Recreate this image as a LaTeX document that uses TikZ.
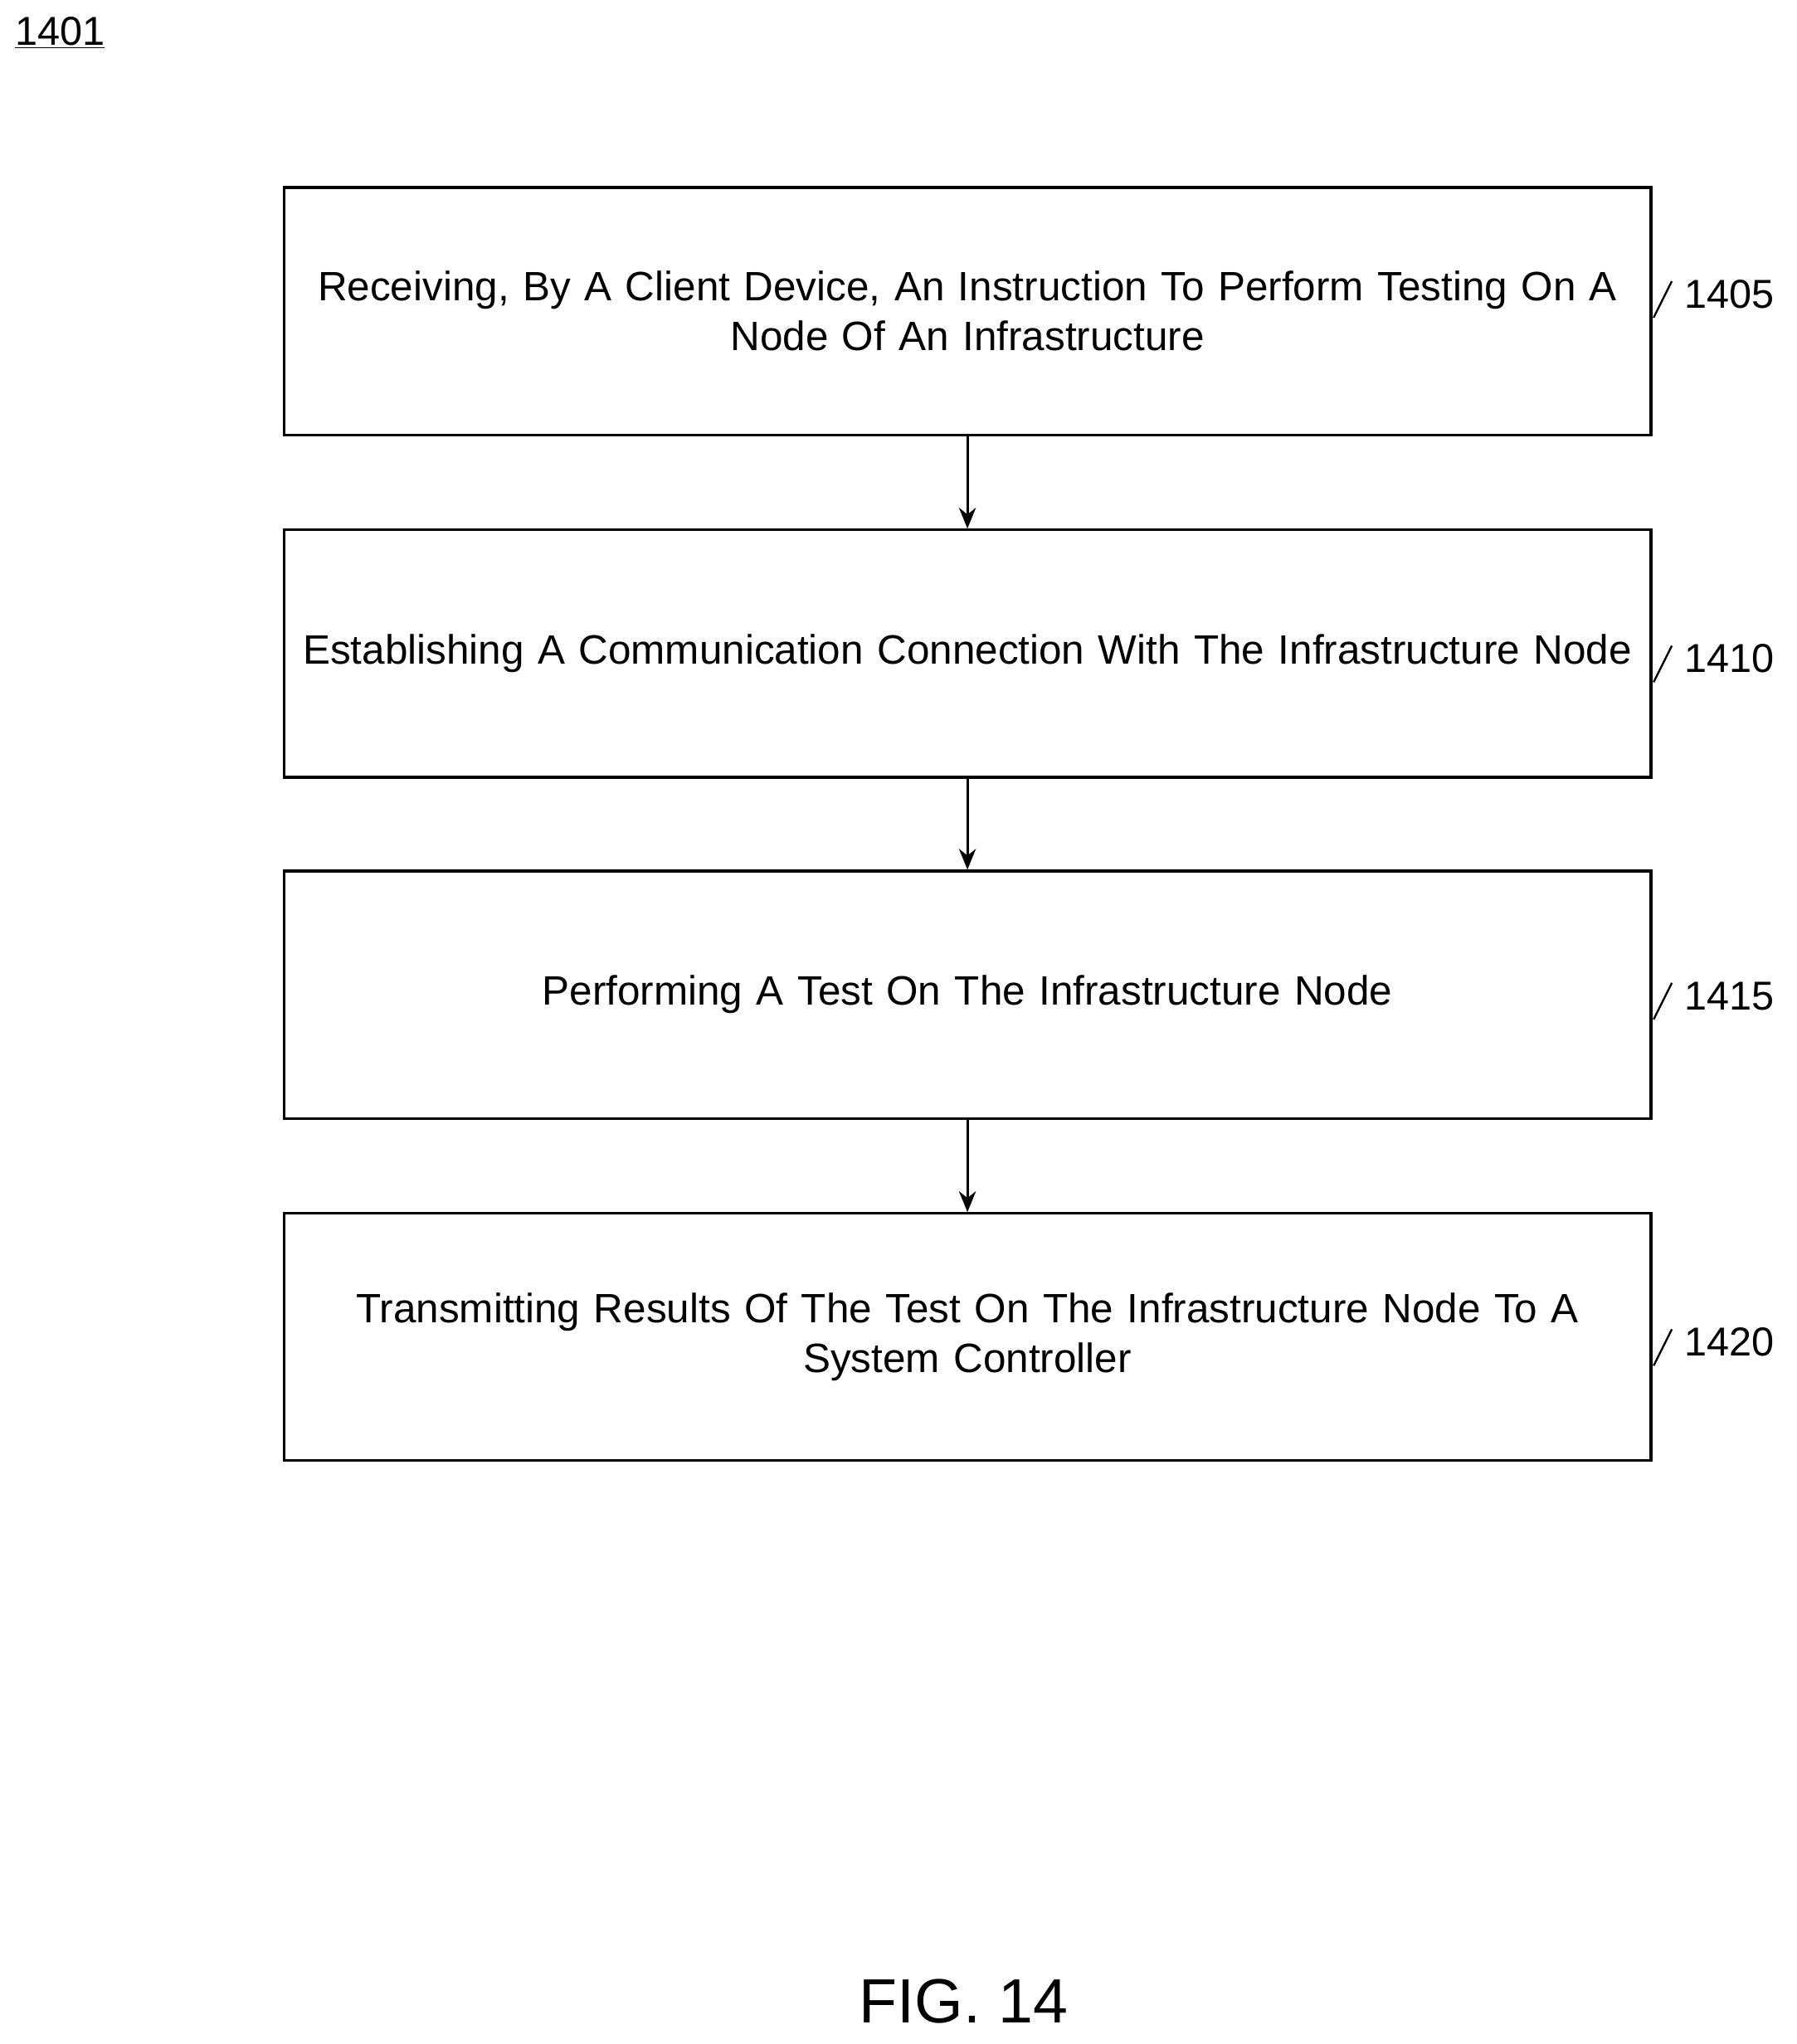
\documentclass[tikz,border=0pt]{standalone}
\usepackage{fontspec}
\setmainfont{Liberation Sans}
\usetikzlibrary{arrows.meta}
\begin{document}
\begin{tikzpicture}[x=1pt,y=-1pt,
  box/.style={draw,line width=2pt,minimum width=1050pt,minimum height=190pt,align=center,font=\fontsize{31.5}{38}\selectfont,text width=1040pt,inner sep=0pt},
  lab/.style={font=\fontsize{31}{36}\selectfont,anchor=west},
  arr/.style={-{Stealth[length=16pt,width=13pt]},line width=2pt}]
\useasboundingbox (0,0) rectangle (1380,1570);
\node[box] (b1) at (743,239) {Receiving, By A Client Device, An Instruction To Perform Testing On A\\Node Of An Infrastructure};
\node[box] (b2) at (743,502) {Establishing A Communication Connection With The Infrastructure Node};
\node[box] (b3) at (743,764) {Performing A Test On The Infrastructure Node};
\node[box] (b4) at (743,1027) {Transmitting Results Of The Test On The Infrastructure Node To A\\System Controller};
\draw[arr] (b1) -- (b2);
\draw[arr] (b2) -- (b3);
\draw[arr] (b3) -- (b4);
\foreach \b/\t/\y in {b1/1405/226,b2/1410/506,b3/1415/765,b4/1420/1031}{
  \draw[line width=1.5pt] (1270,\y+18) -- (1284,\y-10);
  \node[lab] (l\t) at (1290,\y) {\t};
}
\node[font=\fontsize{31}{36}\selectfont,anchor=west] (fig) at (8,25) {\underline{1401}};
\node[font=\fontsize{48}{56}\selectfont] (cap) at (740,1537) {FIG. 14};
\end{tikzpicture}
\end{document}
